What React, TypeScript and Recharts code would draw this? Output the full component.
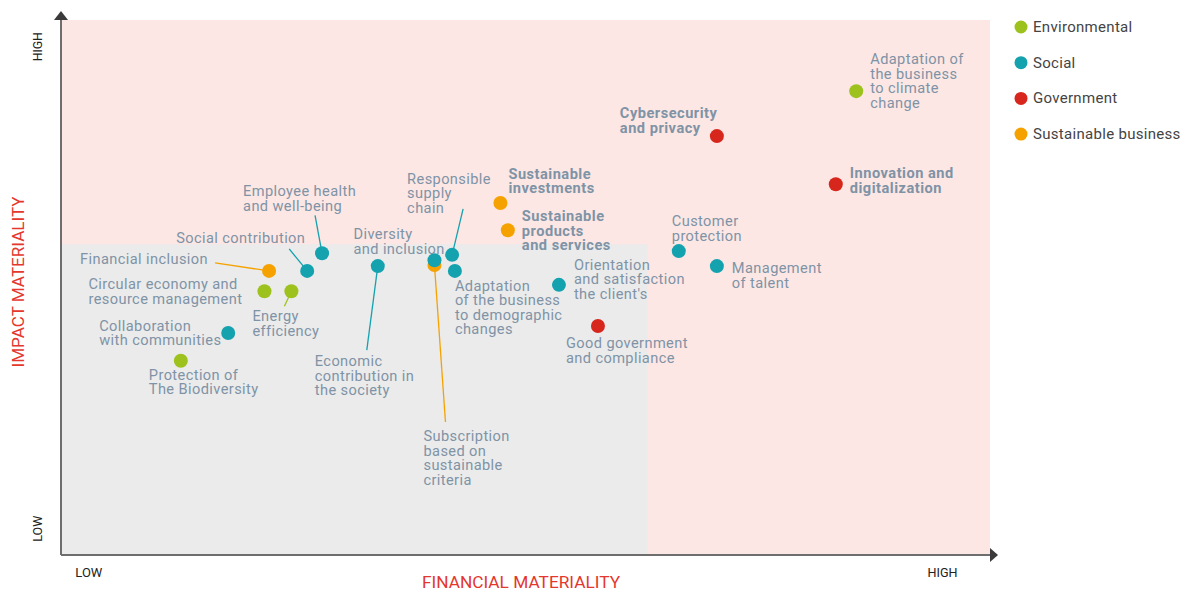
import React from "react";
import {
  ScatterChart,
  Scatter,
  XAxis,
  YAxis,
  ReferenceArea,
  ReferenceDot,
  Customized,
} from "recharts";

// ---------- DATA ----------
type Pt = { name: string; x: number; y: number };

const environmental: Pt[] = [
  { name: "Adaptation of the business to climate change", x: 85.6, y: 86.7 },
  { name: "Circular economy and resource management", x: 21.9, y: 49.3 },
  { name: "Energy efficiency", x: 24.8, y: 49.3 },
  { name: "Protection of The Biodiversity", x: 12.9, y: 36.3 },
];

const social: Pt[] = [
  { name: "Employee health and well-being", x: 28.1, y: 56.4 },
  { name: "Social contribution", x: 26.5, y: 53.1 },
  { name: "Economic contribution in the society", x: 34.1, y: 54.0 },
  { name: "Diversity and inclusion", x: 40.2, y: 55.1 },
  { name: "Responsible supply chain", x: 42.1, y: 56.1 },
  { name: "Adaptation of the business to demographic changes", x: 42.4, y: 53.1 },
  { name: "Collaboration with communities", x: 18.0, y: 41.5 },
  { name: "Orientation and satisfaction the client's", x: 53.6, y: 50.5 },
  { name: "Customer protection", x: 66.5, y: 56.8 },
  { name: "Management of talent", x: 70.6, y: 54.0 },
];

const government: Pt[] = [
  { name: "Cybersecurity and privacy", x: 70.6, y: 78.3 },
  { name: "Innovation and digitalization", x: 83.4, y: 69.3 },
  { name: "Good government and compliance", x: 57.8, y: 42.8 },
];

const sustainableBusiness: Pt[] = [
  { name: "Financial inclusion", x: 22.4, y: 53.1 },
  { name: "Sustainable investments", x: 47.3, y: 65.8 },
  { name: "Sustainable products and services", x: 48.1, y: 60.7 },
  { name: "Subscription based on sustainable criteria", x: 40.2, y: 54.2 },
];

const seriesNames = ["Environmental", "Social", "Government", "Sustainable business"];

const xTickValues = [3, 94.9];
const xTickLabels = ["LOW", "HIGH"];
const yTickValues = [4.9, 95];
const yTickLabels = ["LOW", "HIGH"];

// Zones
const greyZone = { x2: 63.1, y2: 58.1 };

// ---------- STYLE ----------
const COLORS: Record<string, string> = {
  Environmental: "#9DC21E",
  Social: "#14A2AF",
  Government: "#D7261C",
  "Sustainable business": "#F5A200",
};
const LABEL_COLOR = "#7F93A6";
const FONT = "Roboto, 'DejaVu Sans', sans-serif";
const LH = 14.5;

type Layout = {
  lines: string[];
  dx: number;
  dy: number;
  bold?: boolean;
  leader?: [number, number];
};

const labelLayout: Record<string, Layout> = {
  "Adaptation of the business to climate change": { lines: ["Adaptation of", "the business", "to climate", "change"], dx: 14, dy: -32 },
  "Circular economy and resource management": { lines: ["Circular economy and", "resource management"], dx: -176, dy: -7 },
  "Energy efficiency": { lines: ["Energy", "efficiency"], dx: -39, dy: 25, leader: [-7, 15] },
  "Protection of The Biodiversity": { lines: ["Protection of", "The Biodiversity"], dx: -32, dy: 14 },
  "Employee health and well-being": { lines: ["Employee health", "and well-being"], dx: -79, dy: -62, leader: [-7, -38] },
  "Social contribution": { lines: ["Social contribution"], dx: -131, dy: -33, leader: [-18, -22] },
  "Economic contribution in the society": { lines: ["Economic", "contribution in", "the society"], dx: -63, dy: 95, leader: [-11, 84] },
  "Diversity and inclusion": { lines: ["Diversity", "and inclusion"], dx: -81, dy: -26 },
  "Responsible supply chain": { lines: ["Responsible", "supply", "chain"], dx: -45, dy: -76, leader: [11, -46] },
  "Adaptation of the business to demographic changes": { lines: ["Adaptation", "of the business", "to demographic", "changes"], dx: 0, dy: 15 },
  "Collaboration with communities": { lines: ["Collaboration", "with communities"], dx: -129, dy: -7 },
  "Orientation and satisfaction the client's": { lines: ["Orientation", "and satisfaction", "the client's"], dx: 15, dy: -20 },
  "Customer protection": { lines: ["Customer", "protection"], dx: -7, dy: -30 },
  "Management of talent": { lines: ["Management", "of talent"], dx: 15, dy: 2 },
  "Cybersecurity and privacy": { lines: ["Cybersecurity", "and privacy"], dx: -97, dy: -23, bold: true },
  "Innovation and digitalization": { lines: ["Innovation and", "digitalization"], dx: 14, dy: -11, bold: true },
  "Good government and compliance": { lines: ["Good government", "and compliance"], dx: -32, dy: 17 },
  "Financial inclusion": { lines: ["Financial inclusion"], dx: -189, dy: -12, leader: [-54, -8] },
  "Sustainable investments": { lines: ["Sustainable", "investments"], dx: 8, dy: -29, bold: true },
  "Sustainable products and services": { lines: ["Sustainable", "products", "and services"], dx: 14, dy: -14, bold: true },
  "Subscription based on sustainable criteria": { lines: ["Subscription", "based on", "sustainable", "criteria"], dx: -11, dy: 171, leader: [11, 157] },
};

const makeShape = (color: string) => (props: any) => {
  const { cx, cy, payload } = props;
  const lay = labelLayout[payload?.name];
  return (
    <g>
      {lay?.leader && (
        <line
          x1={cx + lay.leader[0]}
          y1={cy + lay.leader[1]}
          x2={cx}
          y2={cy}
          stroke={color}
          strokeWidth={1.3}
        />
      )}
      <circle cx={cx} cy={cy} r={7} fill={color} />
      {lay && (
        <text
          fontFamily={FONT}
          fontSize={14.6}
          letterSpacing={lay.bold ? 0.5 : 0.4}
          fontWeight={lay.bold ? 700 : 400}
          fill={LABEL_COLOR}
          dominantBaseline="central"
        >
          {lay.lines.map((l, i) => (
            <tspan key={i} x={cx + lay.dx} y={cy + lay.dy + i * LH}>
              {l}
            </tspan>
          ))}
        </text>
      )}
    </g>
  );
};

const XTick = (props: any) => {
  const { x, payload } = props;
  const idx = xTickValues.indexOf(payload.value);
  const label = xTickLabels[idx] ?? "";
  return (
    <text
      x={x}
      y={573}
      textAnchor="middle"
      dominantBaseline="central"
      fontFamily={FONT}
      fontSize={12}
      fill="#222"
      textLength={label === "LOW" ? 27 : 30}
      lengthAdjust="spacingAndGlyphs"
    >
      {label}
    </text>
  );
};

const YTick = (props: any) => {
  const { y, payload } = props;
  const idx = yTickValues.indexOf(payload.value);
  const label = yTickLabels[idx] ?? "";
  return (
    <text
      x={38}
      y={y}
      transform={`rotate(-90 38 ${y})`}
      textAnchor="middle"
      dominantBaseline="central"
      fontFamily={FONT}
      fontSize={12}
      fill="#222"
      textLength={label === "LOW" ? 26 : 29}
      lengthAdjust="spacingAndGlyphs"
    >
      {label}
    </text>
  );
};

const XLabel = () => (
  <text
    x={521}
    y={582}
    textAnchor="middle"
    dominantBaseline="central"
    fontFamily={FONT}
    fontSize={17}
    fill="#E4372D"
    textLength={198}
    lengthAdjust="spacingAndGlyphs"
  >
    FINANCIAL MATERIALITY
  </text>
);

const YLabel = () => (
  <text
    x={18}
    y={282}
    transform="rotate(-90 18 282)"
    textAnchor="middle"
    dominantBaseline="central"
    fontFamily={FONT}
    fontSize={17}
    fill="#E4372D"
    textLength={171}
    lengthAdjust="spacingAndGlyphs"
  >
    IMPACT MATERIALITY
  </text>
);

const Overlay = () => (
  <g>
    <text
      x={111}
      y={72}
      fontFamily={FONT}
      fontSize={31}
      fontWeight={500}
      fill="#D9251C"
      textLength={261}
      lengthAdjust="spacingAndGlyphs"
    >
      MATERIAL ISSUES
    </text>
    {seriesNames.map((n, i) => (
      <g key={n}>
        <circle cx={1021} cy={27 + i * 35.7} r={6.5} fill={COLORS[n]} />
        <text
          x={1033}
          y={27 + i * 35.7}
          dominantBaseline="central"
          fontFamily={FONT}
          fontSize={15}
          letterSpacing={0.3}
          fill="#444"
        >
          {n}
        </text>
      </g>
    ))}
  </g>
);

const XArrow = (p: any) => (
  <polygon points={`${p.cx},${p.cy - 7} ${p.cx + 8},${p.cy} ${p.cx},${p.cy + 7}`} fill="#3a3a3a" />
);
const YArrow = (p: any) => (
  <polygon points={`${p.cx - 7},${p.cy} ${p.cx + 7},${p.cy} ${p.cx},${p.cy - 9}`} fill="#3a3a3a" />
);

const seriesData: [string, Pt[]][] = [
  ["Environmental", environmental],
  ["Government", government],
  ["Sustainable business", sustainableBusiness],
  ["Social", social],
];

export default function App() {
  return (
    <div style={{ width: 1189, height: 593 }}>
      <style>{`html, body { margin: 0; padding: 0; overflow: hidden; }`}</style>
      <ScatterChart
        width={1189}
        height={593}
        margin={{ top: 20, right: 199, bottom: 8, left: 8 }}
      >
        <ReferenceArea x1={0} x2={100} y1={0} y2={100} fill="#FCE7E4" fillOpacity={1} stroke="none" />
        <ReferenceArea x1={0} x2={greyZone.x2} y1={0} y2={greyZone.y2} fill="#EBEBEB" fillOpacity={1} stroke="none" />
        <XAxis
          type="number"
          dataKey="x"
          domain={[0, 100]}
          ticks={xTickValues}
          tick={<XTick />}
          tickLine={false}
          axisLine={{ stroke: "#6e6e6e", strokeWidth: 2 }}
          height={30}
          label={<XLabel />}
          allowDataOverflow
        />
        <YAxis
          type="number"
          dataKey="y"
          domain={[0, 100]}
          ticks={yTickValues}
          tick={<YTick />}
          tickLine={false}
          axisLine={{ stroke: "#6e6e6e", strokeWidth: 2 }}
          width={53}
          label={<YLabel />}
          allowDataOverflow
        />
        <ReferenceDot x={100} y={0} r={7} ifOverflow="visible" shape={<XArrow />} />
        <ReferenceDot x={0} y={100} r={7} ifOverflow="visible" shape={<YArrow />} />
        {seriesData.map(([name, data]) => (
          <Scatter
            key={name}
            name={name}
            data={data}
            fill={COLORS[name]}
            shape={makeShape(COLORS[name])}
            isAnimationActive={false}
          />
        ))}
        <Customized component={Overlay} />
      </ScatterChart>
    </div>
  );
}
